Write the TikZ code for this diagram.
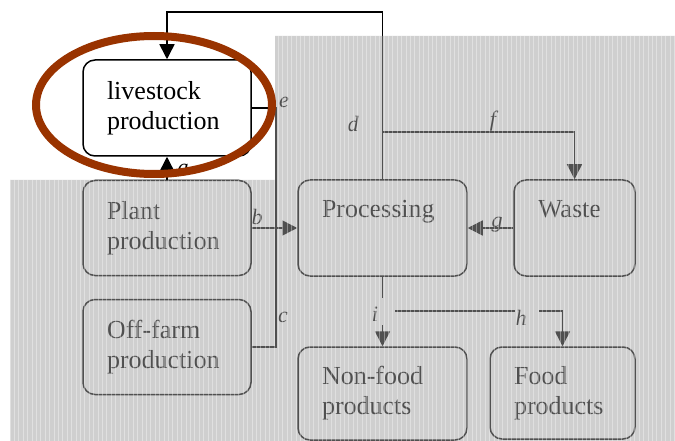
\documentclass[tikz,border=0pt]{standalone}
\usepackage{fontspec}
\setmainfont{Liberation Serif}
\newfontfamily\timesface{Liberation Serif}
\usetikzlibrary{arrows.meta}

\definecolor{ringbrown}{RGB}{153,51,0}
\definecolor{veil}{RGB}{160,160,160}

\tikzset{
  stage/.style={draw, line width=1.5pt, rounded corners=12pt, fill=white,
    align=left, inner xsep=0pt, font=\timesface\fontsize{26}{30}\selectfont},
  flow/.style={line width=1.5pt, -{Triangle[width=15pt,length=15pt]}},
  link/.style={line width=1.5pt},
  tag/.style={inner sep=0pt, font=\timesface\fontsize{22}{22}\selectfont\itshape}
}

\begin{document}
\begin{tikzpicture}[x=1pt,y=-1pt]
  \useasboundingbox (0,0) rectangle (675,441);

  % the stages
  \node[stage, minimum width=168pt, minimum height=96pt, text width=120pt] (live) at (167,108) {livestock\\production};
  \node[stage, minimum width=168pt, minimum height=95pt, text width=120pt] (plant) at (167,228) {Plant\\production};
  \node[stage, minimum width=168pt, minimum height=95pt, text width=120pt] (offfarm) at (167,347) {Off-farm\\production};
  \node[stage, minimum width=169pt, minimum height=96pt, text width=121pt] (proc) at (382.5,228) {Processing\\\strut};
  \node[stage, minimum width=121pt, minimum height=96pt, text width=73pt] (waste) at (574.5,228) {Waste\\\strut};
  \node[stage, minimum width=169pt, minimum height=93pt, text width=121pt] (nonfood) at (382.5,393.5) {Non-food\\products};
  \node[stage, minimum width=145pt, minimum height=92pt, text width=97pt] (food) at (562.5,393) {Food\\products};

  % flows between them
  \draw[flow] (proc.north) -- (proc.north |- 0,12) -| (live.north);
  \coordinate (fsplit) at (proc.north |- 0,132);
  \draw[flow] (fsplit) -| (waste.north);
  \draw[link] (live.east) -- ++(24,0) |- (offfarm.east);
  \draw[flow] (plant.east) -- (proc.west);
  \draw[flow] (plant.north) -- (live.south);
  \draw[flow] (waste.west) -- (proc.east);

  \coordinate (istop) at (proc.south |- 0,298);
  \coordinate (istart) at (proc.south |- 0,325);
  \coordinate (hleft) at (395,311);
  \coordinate (hright) at (515,311);
  \coordinate (hstart) at (539,311);
  \draw[link] (proc.south) -- (istop);
  \draw[flow] (istart) -- (nonfood.north);
  \draw[link] (hleft) -- (hright);
  \draw[flow] (hstart) -| (food.north);

  \node[tag] (alab) at (183,169) {a};
  \node[tag] (blab) at (257,217) {b};
  \node[tag] (clab) at (283,317) {c};
  \node[tag] (dlab) at (353,124) {d};
  \node[tag] (elab) at (284,102) {e};
  \node[tag] (flab) at (493,121) {f};
  \node[tag] (glab) at (497,225) {g};
  \node[tag] (hlab) at (521,318) {h};
  \node[tag] (ilab) at (375,314) {i};

  % greyed-out part
  \fill[veil, opacity=0.5] (10,180) rectangle (275,441) (275,36) rectangle (675,441);
  \begin{scope}
    \clip (10,180) rectangle (275,441) (275,36) rectangle (675,441);
    \draw[white, opacity=0.35, line width=0.8pt, step=4.4, shift={(1.1,1.1)}] (-10,-10) grid (680,450);
  \end{scope}

  \draw[ringbrown, line width=8pt] (154,105) ellipse [x radius=118pt, y radius=69pt];
\end{tikzpicture}
\end{document}
